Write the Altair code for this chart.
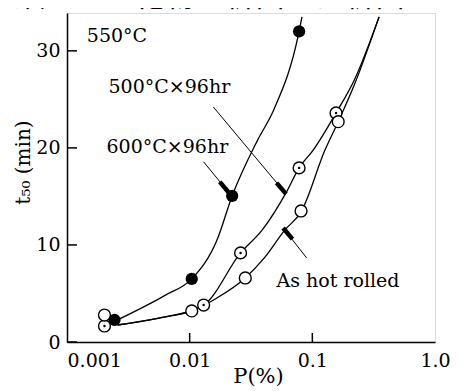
import altair as alt
import pandas as pd

# ---- measured points (P in %, t50 in min) ----
p600_P = [0.00244, 0.0104, 0.0222, 0.078]
p600_t = [2.27, 6.5, 15.05, 32.0]
p500_P = [0.00202, 0.0130, 0.0260, 0.078, 0.156]
p500_t = [1.65, 3.81, 9.18, 17.94, 23.6]
pahr_P = [0.00202, 0.0104, 0.0284, 0.0809, 0.1625]
pahr_t = [2.78, 3.2, 6.6, 13.5, 22.7]

# ---- hand-drawn fitted curves ----
c600_P = [0.00258, 0.0064, 0.0104, 0.0167, 0.0222, 0.0358, 0.0484, 0.078, 0.0823]
c600_t = [2.27, 4.85, 6.5, 10.5, 15.05, 20.8, 23.9, 32.0, 33.5]
c500_P = [0.00258, 0.00562, 0.0130, 0.0260, 0.0391, 0.0610, 0.0780, 0.102, 0.156, 0.220, 0.350]
c500_t = [1.75, 2.47, 3.81, 9.18, 11.55, 15.36, 17.94, 19.8, 23.6, 27.0, 33.5]
cahr_P = [0.00258, 0.00562, 0.0104, 0.0167, 0.0284, 0.0406, 0.0598, 0.0809, 0.127, 0.1625, 0.220, 0.350]
cahr_t = [1.75, 2.47, 3.2, 4.54, 6.6, 8.66, 11.55, 13.4, 19.8, 22.7, 26.5, 33.5]

# ---- annotation leaders: (start P, start t, end P, end t) ----
lead_P1 = [0.01556, 0.0130, 0.0899]
lead_t1 = [24.23, 18.56, 8.66]
lead_P2 = [0.0610, 0.02065, 0.0578]
lead_t2 = [15.26, 15.46, 11.75]
head_P1 = [0.0511, 0.0176, 0.0689]
head_t1 = [16.4, 16.5, 10.6]
head_P2 = [0.0610, 0.02065, 0.0578]
head_t2 = [15.26, 15.46, 11.75]

# ---- labels ----
label_text = ["550°C", "500°C×96hr", "600°C×96hr", "As hot rolled"]
label_P = [0.00145, 0.00218, 0.00210, 0.0511]
label_t = [30.9, 25.67, 19.5, 5.67]

x_ticks = [0.001, 0.01, 0.1, 1.0]
y_ticks = [0, 10, 20, 30]
x_inner_ticks = [0.01, 0.1]
header_text = "鉄のリン化物の析出には析出ラ"

W, H = 368, 329
FONT = "DejaVu Serif"

xs = alt.Scale(type="log", domain=[0.001, 1.0], nice=False)
ys = alt.Scale(domain=[0, 33.9], nice=False)

xaxis = alt.Axis(values=x_ticks, tickSize=0, grid=False,
                 labelExpr="datum.value >= 1 ? '1.0' : format(datum.value, '~g')",
                 labelAlign=alt.ExprRef(expr="datum.value <= 0.001 ? 'left' : 'center'"),
                 labelFontSize=19, labelFont=FONT, labelColor="black", labelPadding=9,
                 domainColor="black", domainWidth=1.5,
                 title="P(%)", titleFont=FONT, titleFontSize=21, titleFontWeight="normal",
                 titleColor="black", titleBaseline="alphabetic", titleY=40, titleX=191)
yaxis = alt.Axis(values=y_ticks, tickSize=0, grid=False,
                 labelFontSize=19, labelFont=FONT, labelColor="black", labelPadding=7,
                 domainColor="black", domainWidth=1.5,
                 title="t₅₀ (min)", titleFont=FONT, titleFontSize=20, titleFontWeight="normal",
                 titleColor="black", titleX=-34, titleY=149)

def curve(P, t):
    df = pd.DataFrame({"P": P, "t": t})
    return alt.Chart(df).mark_line(color="black", strokeWidth=1.3, interpolate="monotone").encode(
        x=alt.X("P:Q", scale=xs, axis=xaxis), y=alt.Y("t:Q", scale=ys, axis=yaxis))

base_layers = [curve(c600_P, c600_t), curve(c500_P, c500_t), curve(cahr_P, cahr_t)]

leads = pd.DataFrame({"P1": lead_P1, "t1": lead_t1, "P2": lead_P2, "t2": lead_t2})
heads = pd.DataFrame({"P1": head_P1, "t1": head_t1, "P2": head_P2, "t2": head_t2})
lead_rule = alt.Chart(leads).mark_rule(color="black", strokeWidth=1).encode(
    x=alt.X("P1:Q", scale=xs), y=alt.Y("t1:Q", scale=ys), x2="P2:Q", y2="t2:Q")
head_rule = alt.Chart(heads).mark_rule(color="black", strokeWidth=4.5).encode(
    x=alt.X("P1:Q", scale=xs), y=alt.Y("t1:Q", scale=ys), x2="P2:Q", y2="t2:Q")

filled = alt.Chart(pd.DataFrame({"P": p600_P, "t": p600_t})).mark_point(
    shape="circle", filled=True, color="black", size=150, opacity=1).encode(
    x=alt.X("P:Q", scale=xs), y=alt.Y("t:Q", scale=ys))
open500 = alt.Chart(pd.DataFrame({"P": p500_P, "t": p500_t})).mark_point(
    shape="circle", filled=True, fill="white", stroke="black", strokeWidth=1.4, size=140, opacity=1).encode(
    x=alt.X("P:Q", scale=xs), y=alt.Y("t:Q", scale=ys))
dot500 = alt.Chart(pd.DataFrame({"P": p500_P, "t": p500_t})).mark_point(
    shape="circle", filled=True, color="black", size=6, opacity=1).encode(
    x=alt.X("P:Q", scale=xs), y=alt.Y("t:Q", scale=ys))
openahr = alt.Chart(pd.DataFrame({"P": pahr_P, "t": pahr_t})).mark_point(
    shape="circle", filled=True, fill="white", stroke="black", strokeWidth=1.4, size=140, opacity=1).encode(
    x=alt.X("P:Q", scale=xs), y=alt.Y("t:Q", scale=ys))

labels = alt.Chart(pd.DataFrame({"P": label_P, "t": label_t, "txt": label_text})).mark_text(
    align="left", baseline="alphabetic", font=FONT, fontSize=19, color="black").encode(
    x=alt.X("P:Q", scale=xs), y=alt.Y("t:Q", scale=ys), text="txt:N")

yt = alt.Chart(pd.DataFrame({"t": y_ticks})).mark_rule(color="black", strokeWidth=1.5).encode(
    y=alt.Y("t:Q", scale=ys), x=alt.value(0), x2=alt.value(10))
xt = alt.Chart(pd.DataFrame({"P": x_inner_ticks})).mark_rule(color="black", strokeWidth=1.5).encode(
    x=alt.X("P:Q", scale=xs), y=alt.value(H), y2=alt.value(H - 9))

header = alt.Chart(pd.DataFrame({"txt": [header_text]})).mark_text(
    align="left", baseline="bottom", font="Noto Sans CJK JP", fontSize=30, color="black").encode(
    x=alt.value(-52), y=alt.value(-1), text="txt:N")

chart = alt.layer(*base_layers, lead_rule, head_rule, filled, open500, dot500, openahr,
                  labels, yt, xt, header).properties(
    width=W, height=H,
    autosize=alt.AutoSizeParams(type="none"),
    padding={"left": 59, "top": 5, "right": 24, "bottom": 49},
).configure_view(stroke="black", strokeWidth=1.5).configure(background="white")

chart.save("out.html", embed_options={"renderer": "svg", "actions": False})
